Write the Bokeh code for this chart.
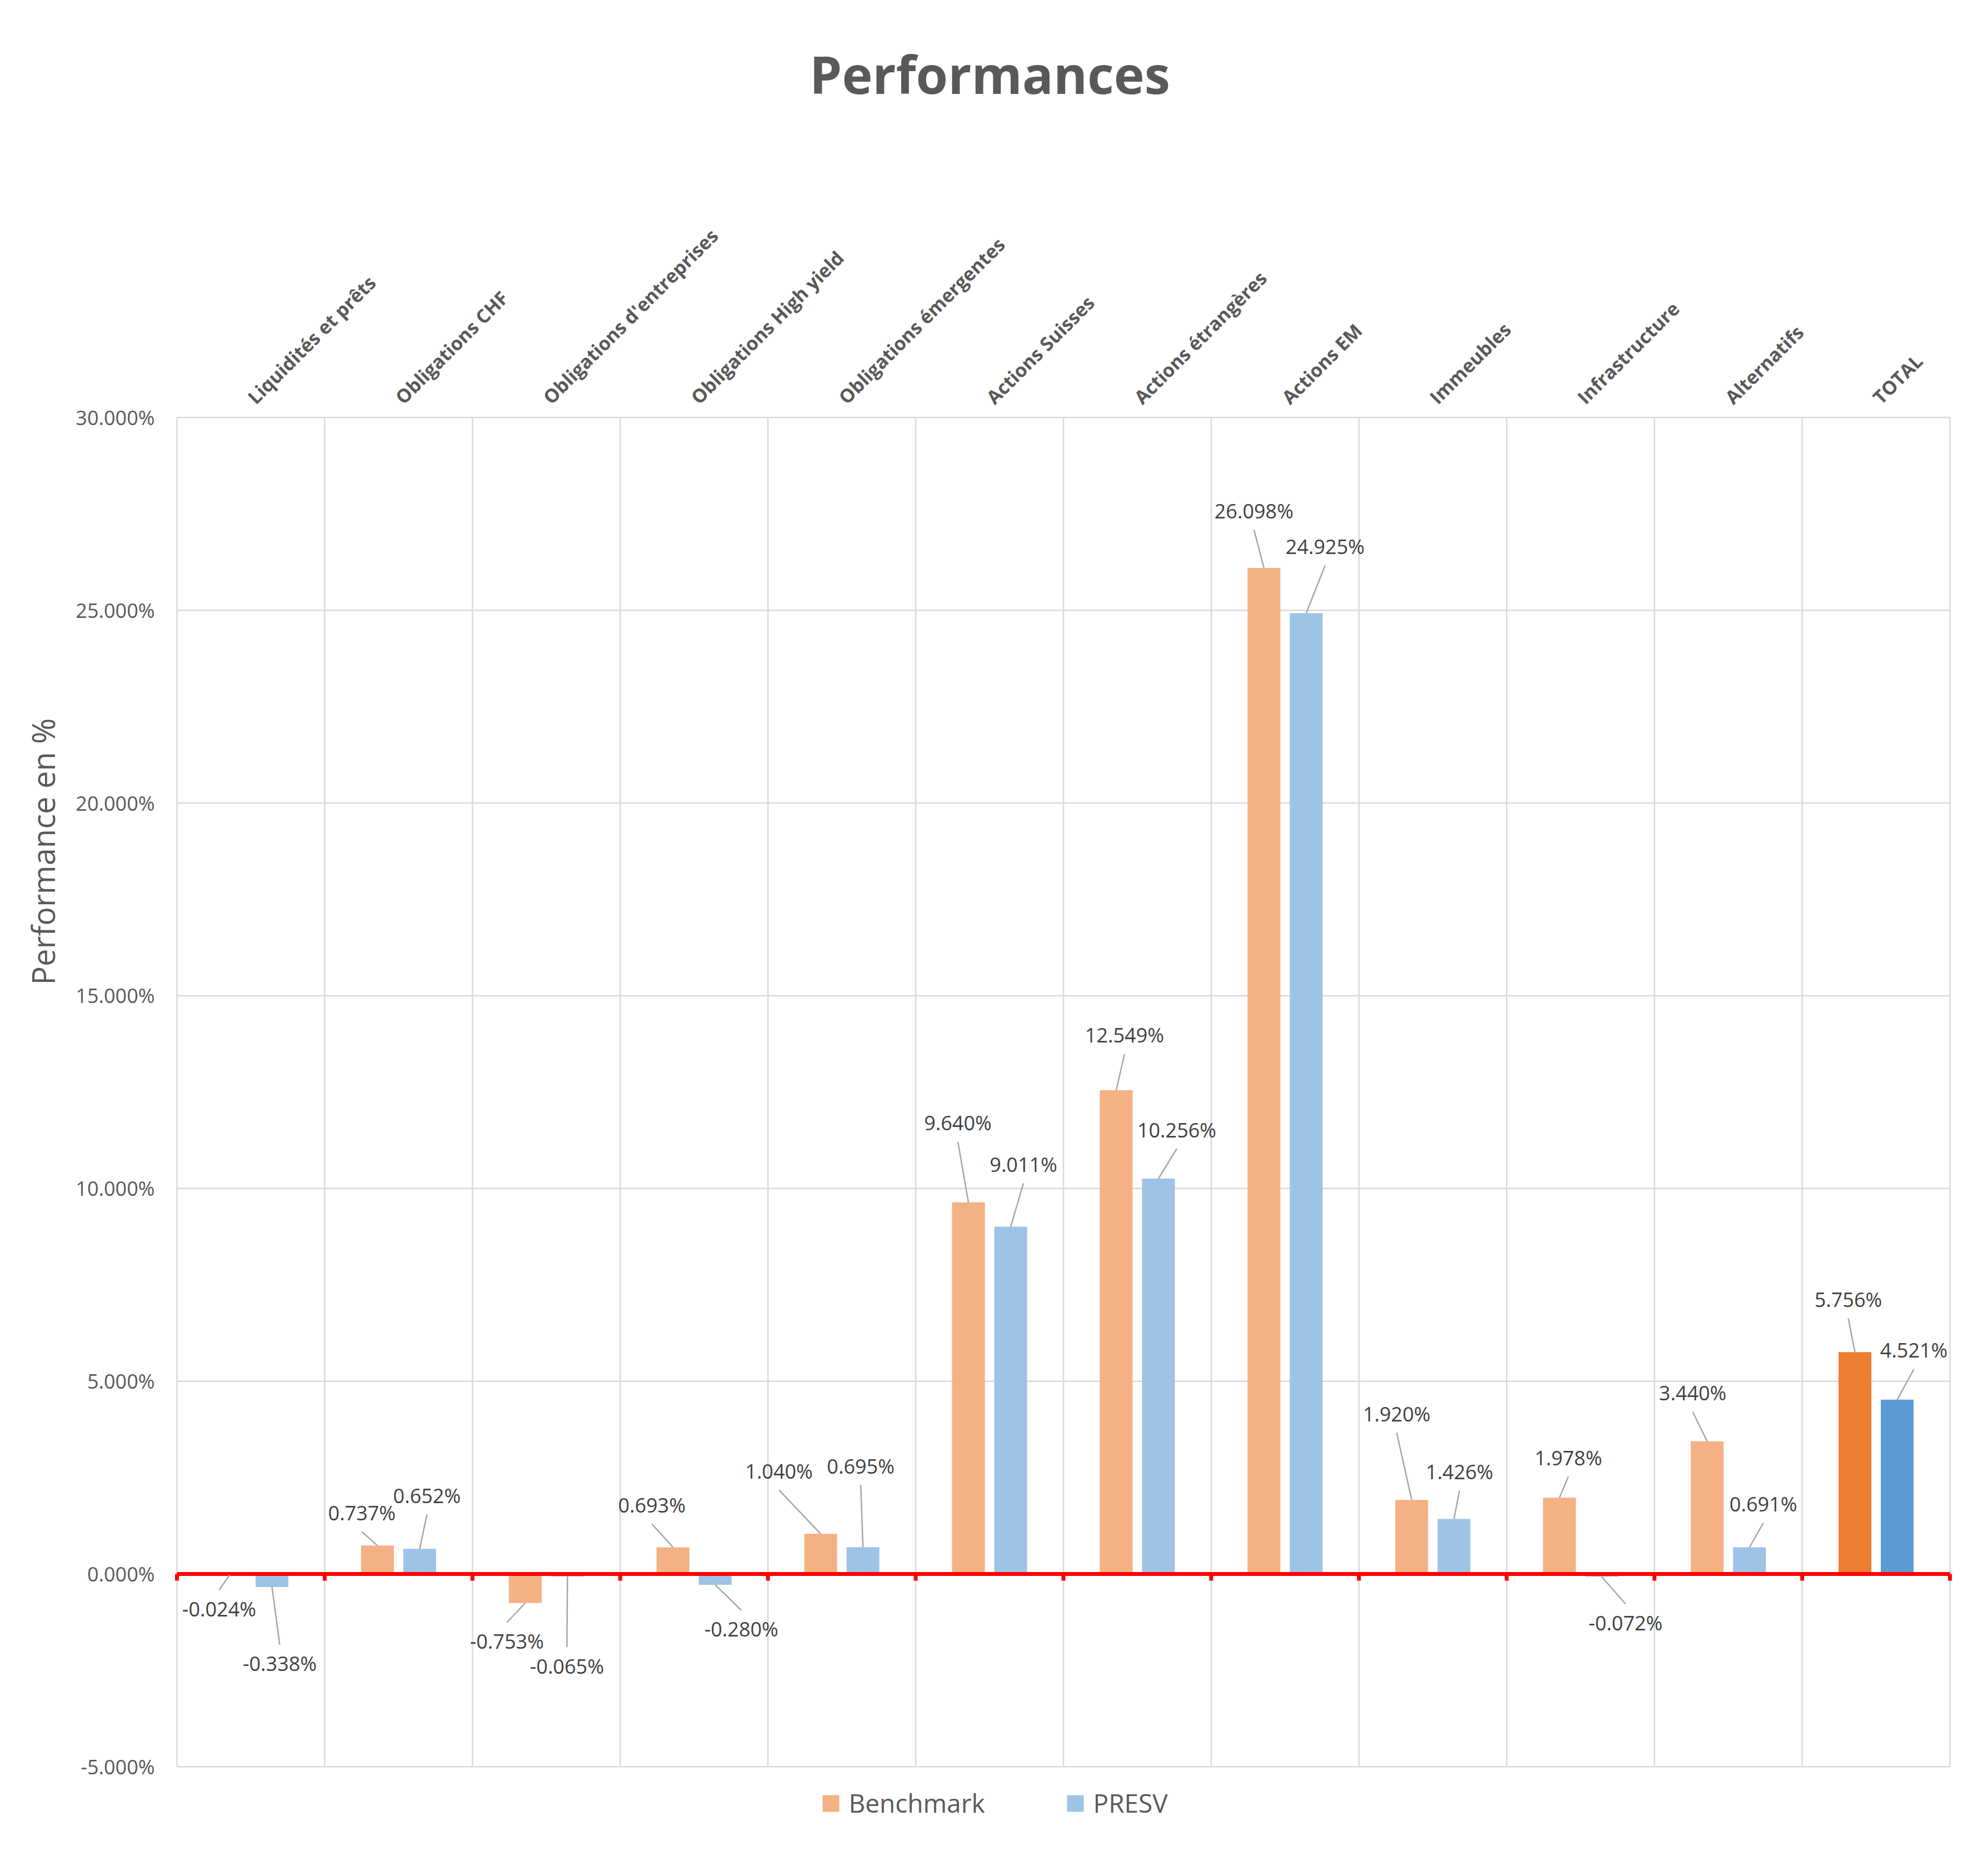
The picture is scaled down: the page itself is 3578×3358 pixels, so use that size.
from math import pi
from bokeh.plotting import figure
from bokeh.models import Range1d
from bokeh.core.properties import value
from bokeh.embed import file_html
from bokeh.resources import INLINE

# ---------------- data ----------------
categories = ["Liquidités et prêts", "Obligations CHF", "Obligations d'entreprises",
              "Obligations High yield", "Obligations émergentes", "Actions Suisses",
              "Actions étrangères", "Actions EM", "Immeubles", "Infrastructure",
              "Alternatifs", "TOTAL"]
benchmark = [-0.024, 0.737, -0.753, 0.693, 1.040, 9.640, 12.549, 26.098, 1.920, 1.978, 3.440, 5.756]
presv = [-0.338, 0.652, -0.065, -0.280, 0.695, 9.011, 10.256, 24.925, 1.426, -0.072, 0.691, 4.521]
series_names = ["Benchmark", "PRESV"]
y_ticks = [-5, 0, 5, 10, 15, 20, 25, 30]
y_title = "Performance en %"
chart_title = "Performances"

# label placement (screen px offsets from bar tip, + = right / down)
bench_dx = [-19, -28, -33, -38, -75, -19, 15, -18, -27, 16, -26, -12]
bench_dy = [61, -59, 69, -76, -113, -143, -99, -103, -155, -72, -87, -95]
presv_dx = [14, 13, -1, 47, -4, 23, 33, 34, 10, 43, 25, 30]
presv_dy = [138, -96, 161, 80, -146, -112, -88, -120, -85, 83, -78, -89]

# ---------------- layout / style ----------------
W, H = 3562, 3342
LEFT = 318                     # plot-area left (figure px)
PX_X = 3191 / 12               # px per category
PX_Y = 2428 / 35               # px per percent
ZERO = 2832                    # figure px of the 0 % line (from top)
GRID = "#D9D9D9"
TXT = "#595959"
LBL = "#404040"
C_B, C_B_TOT = "#F4B183", "#ED7D31"
C_P, C_P_TOT = "#9DC3E6", "#5B9BD5"
BAR_W = 0.222
OFF = 0.143


def sx(px):   # figure px (x) -> data x
    return (px - LEFT) / PX_X


def sy(py):   # figure px (y, from top) -> data y
    return (ZERO - py) / PX_Y


n = len(categories)
p = figure(width=W, height=H, output_backend="svg", toolbar_location=None,
           title=None, x_axis_location=None, y_axis_location=None,
           x_range=Range1d(sx(0), sx(W)), y_range=Range1d(sy(H), sy(0)),
           min_border_left=0, min_border_right=0, min_border_top=0, min_border_bottom=0)
p.outline_line_color = None
p.xgrid.visible = False
p.ygrid.visible = False
p.background_fill_color = "white"
p.border_fill_color = "white"

# grid lines
ymin, ymax = y_ticks[0], y_ticks[-1]
p.segment(x0=[0] * len(y_ticks), x1=[n] * len(y_ticks), y0=y_ticks, y1=y_ticks,
          line_color=GRID, line_width=2.5)
p.segment(x0=list(range(n + 1)), x1=list(range(n + 1)), y0=[ymin] * (n + 1), y1=[ymax] * (n + 1),
          line_color=GRID, line_width=2.5)

# y tick labels
p.text(x=[sx(LEFT - 40)] * len(y_ticks), y=y_ticks, text=[f"{t:.3f}%" for t in y_ticks],
       text_align="right", text_baseline="middle", text_font=value("Open Sans"),
       text_font_size="36px", text_color=TXT)

# bars
xb = [i + 0.5 - OFF for i in range(n)]
xp = [i + 0.5 + OFF for i in range(n)]
cb = [C_B_TOT if c == "TOTAL" else C_B for c in categories]
cp = [C_P_TOT if c == "TOTAL" else C_P for c in categories]
p.vbar(x=xb, top=benchmark, bottom=0, width=BAR_W, fill_color=cb, line_color=None)
p.vbar(x=xp, top=presv, bottom=0, width=BAR_W, fill_color=cp, line_color=None)

# red zero axis with ticks
p.segment(x0=[0], x1=[n], y0=[0], y1=[0], line_color="#FF0000", line_width=7)
p.segment(x0=list(range(n + 1)), x1=list(range(n + 1)), y0=[0] * (n + 1),
          y1=[-12 / PX_Y] * (n + 1), line_color="#FF0000", line_width=7, line_cap="butt")

# data labels with leader lines
lx, ly, lt, ex0, ey0, ex1, ey1 = [], [], [], [], [], [], []
for xs, vals, dxs, dys in ((xb, benchmark, bench_dx, bench_dy), (xp, presv, presv_dx, presv_dy)):
    for x, v, dx, dy in zip(xs, vals, dxs, dys):
        tx = x + dx / PX_X
        ty = v - dy / PX_Y
        lx.append(tx)
        ly.append(ty)
        lt.append(f"{v:.3f}%")
        ex0.append(x)
        ey0.append(v)
        ex1.append(tx)
        ey1.append(ty - 34 / PX_Y if dy < 0 else ty + 34 / PX_Y)
p.segment(x0=ex0, y0=ey0, x1=ex1, y1=ey1, line_color="#A6A6A6", line_width=2.5)
p.text(x=lx, y=ly, text=lt, text_align="center", text_baseline="middle",
       text_font=value("Open Sans"), text_font_size="36px", text_color=LBL)

# category labels (rotated, above plot)
p.text(x=[i + 0.5 for i in range(n)], y=[sy(720)] * n, text=categories, angle=pi / 4,
       text_align="left", text_baseline="alphabetic", text_font=value("Open Sans"),
       text_font_style="bold", text_font_size="34px", text_color=TXT)

# title
p.text(x=[sx(1781)], y=[sy(132)], text=[chart_title], text_align="center",
       text_baseline="alphabetic", text_font=value("Open Sans"), text_font_style="bold",
       text_font_size="93px", text_color=TXT)

# legend
p.scatter(x=[sx(1495), sx(1935)], y=[sy(3245)] * 2, marker="square", size=30,
          fill_color=[C_B, C_P], line_color=None)
p.text(x=[sx(1527), sx(1967)], y=[sy(3243)] * 2, text=series_names, text_align="left",
       text_baseline="middle", text_font=value("Open Sans"), text_font_size="46px", text_color=TXT)

# y axis title
p.text(x=[sx(76)], y=[sy(1532)], text=[y_title], angle=pi / 2,
       text_align="center", text_baseline="middle", text_font=value("Open Sans"),
       text_font_size="56px", text_color=TXT)

open("out.html", "w").write(file_html(p, INLINE))
